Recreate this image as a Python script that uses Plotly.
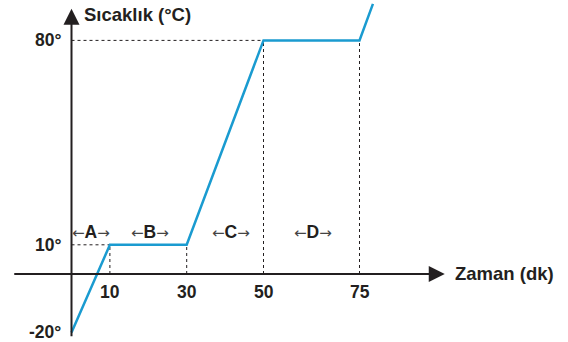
import plotly.graph_objects as go

# Data
time_min = [0, 10, 30, 50, 75, 78.5]
temp_c = [-20, 10, 10, 80, 80, 92.5]
x_ticks = [10, 30, 50, 75]
x_tick_labels = ["10", "30", "50", "75"]
y_ticks = [80, 10, -20]
y_tick_labels = ["80°", "10°", "-20°"]
region_names = ["A", "B", "C", "D"]
region_x = [5, 20.5, 41.5, 63]
region_y = 14.5

# Dotted guides
guide_h = [(10, 10), (50, 80)]          # (x end, y level)
guide_v = [(10, 10), (30, 10), (50, 80), (75, 80)]  # (x, y top)

AX = "#231f20"
BLUE = "#1a9bd0"
FONT = "Liberation Sans, Arial, sans-serif"
ARROWFONT = "DejaVu Sans, sans-serif"

W, H = 568, 342
X0, SX = 71.5, 3.84
Y0, SY = 274, 2.92
xr = [(0 - X0) / SX, (W - X0) / SX]
yr = [(Y0 - H) / SY, Y0 / SY]

fig = go.Figure()

for xe, yl in guide_h:
    fig.add_trace(go.Scatter(x=[0, xe], y=[yl, yl], mode="lines",
                             line=dict(color=AX, width=1, dash="dot"),
                             hoverinfo="skip", showlegend=False))
for xv, yt in guide_v:
    fig.add_trace(go.Scatter(x=[xv, xv], y=[0, yt], mode="lines",
                             line=dict(color=AX, width=1, dash="dot"),
                             hoverinfo="skip", showlegend=False))

fig.add_trace(go.Scatter(x=time_min, y=temp_c, mode="lines",
                         line=dict(color=BLUE, width=2.5),
                         showlegend=False))

annotations = []
# axes with arrows
annotations.append(dict(x=97.2, y=0, ax=-15.3, ay=0, xref="x", yref="y",
                        axref="x", ayref="y", showarrow=True, arrowhead=2,
                        arrowsize=1.6, arrowwidth=2, arrowcolor=AX, text="",
                        standoff=0))
annotations.append(dict(x=0, y=90.8, ax=0, ay=-21.8, xref="x", yref="y",
                        axref="x", ayref="y", showarrow=True, arrowhead=2,
                        arrowsize=1.6, arrowwidth=2, arrowcolor=AX, text="",
                        standoff=0))
# axis titles
annotations.append(dict(x=2.7, y=88.9, xref="x", yref="y", text="<b>Sıcaklık (°C)</b>",
                        showarrow=False, xanchor="left", yanchor="middle",
                        font=dict(family=FONT, size=18.5, color=AX)))
annotations.append(dict(x=99.3, y=0.3, xref="x", yref="y", text="<b>Zaman (dk)</b>",
                        showarrow=False, xanchor="left", yanchor="middle",
                        font=dict(family=FONT, size=18.5, color=AX)))
# tick labels
for v, t in zip(x_ticks, x_tick_labels):
    annotations.append(dict(x=v, y=-6.0, xref="x", yref="y", text=f"<b>{t}</b>",
                            showarrow=False, xanchor="center", yanchor="middle",
                            font=dict(family=FONT, size=17.5, color=AX)))
for v, t in zip(y_ticks, y_tick_labels):
    annotations.append(dict(x=-2.2, y=v, xref="x", yref="y", text=f"<b>{t}</b>",
                            showarrow=False, xanchor="right", yanchor="middle",
                            font=dict(family=FONT, size=17.5, color=AX)))
# region labels
for n, rx in zip(region_names, region_x):
    annotations.append(dict(x=rx, y=region_y, xref="x", yref="y",
                            text=(f"<span style='font-family:{ARROWFONT};font-size:15px;color:#444'>←</span>"
                                  f"<b>{n}</b>"
                                  f"<span style='font-family:{ARROWFONT};font-size:15px;color:#444'>→</span>"),
                            showarrow=False, xanchor="center", yanchor="middle",
                            font=dict(family=FONT, size=17.5, color=AX)))

fig.update_layout(
    width=W, height=H,
    margin=dict(l=0, r=0, t=0, b=0),
    paper_bgcolor="white", plot_bgcolor="white",
    xaxis=dict(range=xr, visible=False, fixedrange=True),
    yaxis=dict(range=yr, visible=False, fixedrange=True),
    annotations=annotations,
)

fig.write_html("out.html",
               config={"displayModeBar": False, "staticPlot": True},
               post_script="document.body.style.margin='0px';document.body.style.overflow='hidden';")
